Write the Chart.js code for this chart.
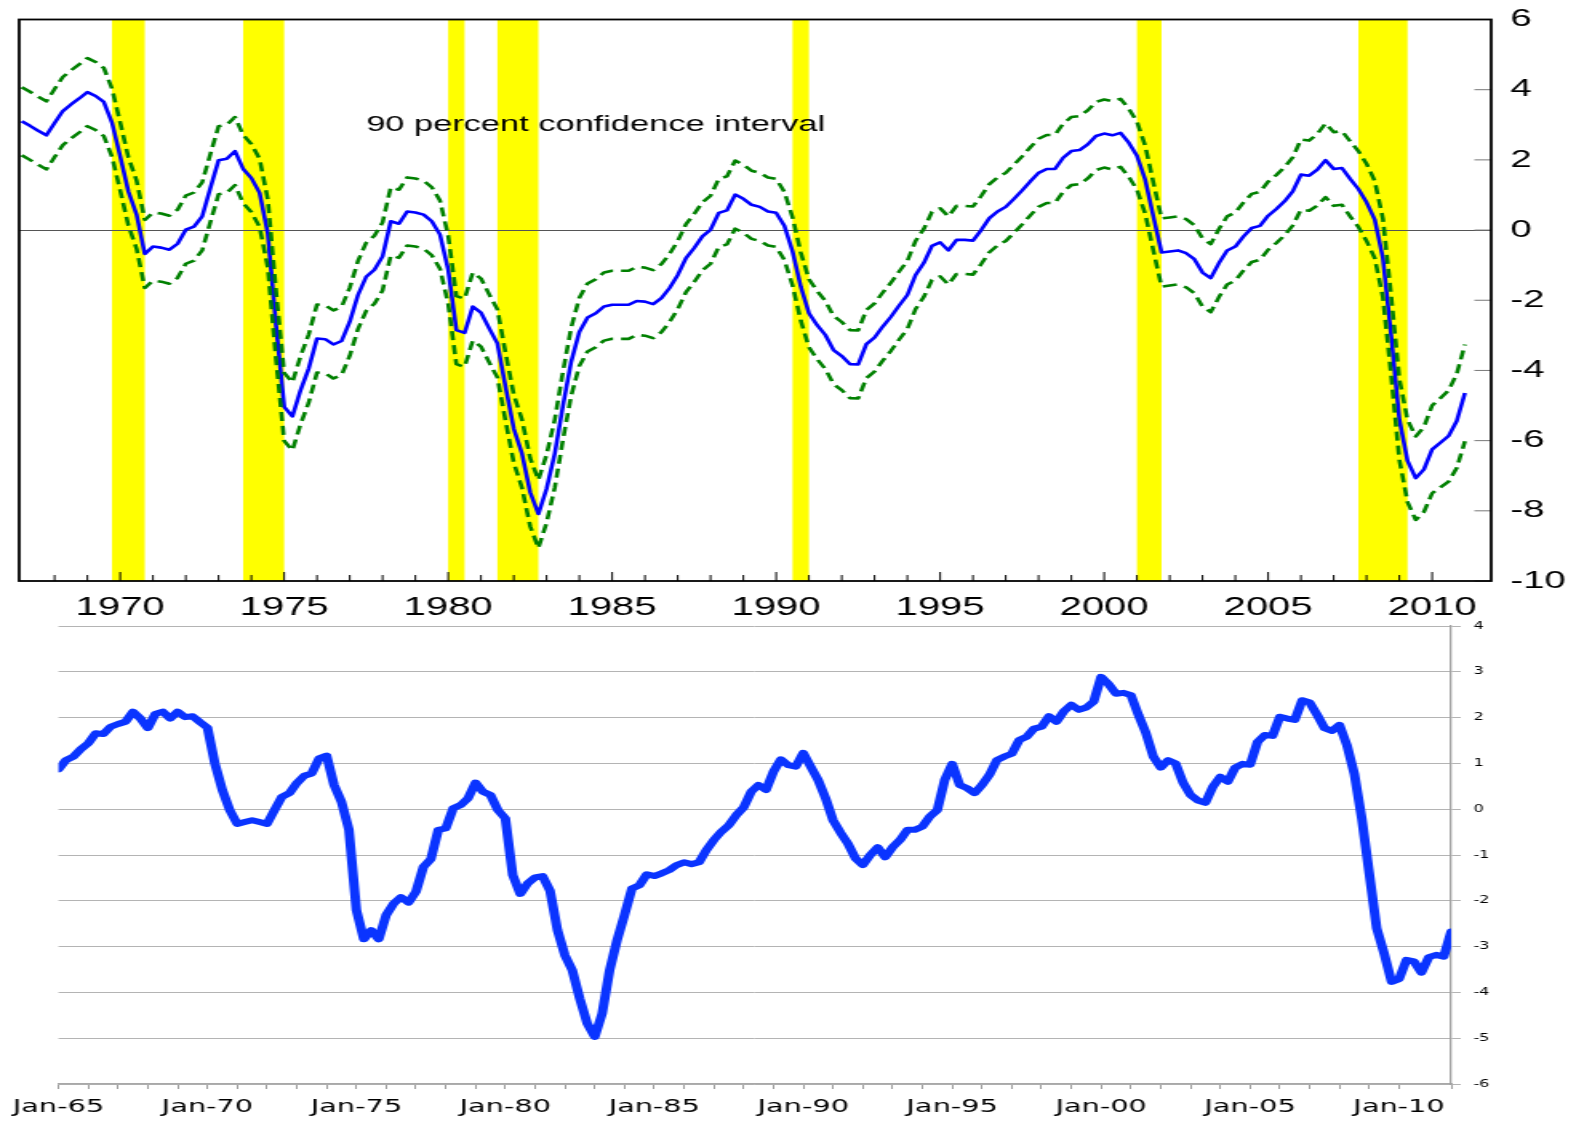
<!DOCTYPE html>
<html>
<head>
<meta charset="utf-8">
<script src="https://cdn.jsdelivr.net/npm/chart.js@4.4.1/dist/chart.umd.min.js"></script>
<style>
    html, body { margin: 0; padding: 0; background: #fff; }
    body { width: 1575px; height: 1128px; overflow: hidden; position: relative; }
    /* the source figure is stretched sideways, so each panel is drawn narrow and scaled */
    .panel { position: absolute; left: 0; width: 985px; transform-origin: 0 0; transform: scaleX(1.6); }
    #top-panel { top: 0; height: 620px; }
    #bottom-panel { top: 620px; height: 508px; }
</style>
</head>
<body>
<div class="panel" id="top-panel"><canvas id="top-chart"></canvas></div>
<div class="panel" id="bottom-panel"><canvas id="bottom-chart"></canvas></div>
<script>
// top panel: quarterly estimate from 1967Q1 with 90 percent band
const topStart = 1967;
const topMean = [
    3.10, 2.97, 2.83, 2.70, 3.05, 3.39, 3.58, 3.75, 3.93, 3.82, 3.65, 3.06,
    2.10, 1.10, 0.44, -0.68, -0.47, -0.50, -0.56, -0.39, 0.01, 0.10, 0.39, 1.20,
    1.99, 2.03, 2.25, 1.74, 1.48, 1.06, -0.09, -2.70, -5.04, -5.31, -4.56, -3.94,
    -3.09, -3.11, -3.26, -3.16, -2.61, -1.85, -1.33, -1.13, -0.75, 0.25, 0.18, 0.53,
    0.50, 0.44, 0.25, -0.13, -1.13, -2.85, -2.93, -2.18, -2.35, -2.80, -3.23, -4.47,
    -5.66, -6.37, -7.47, -8.09, -7.37, -6.37, -5.00, -3.75, -2.90, -2.49, -2.37, -2.18,
    -2.13, -2.13, -2.13, -2.02, -2.04, -2.11, -1.94, -1.65, -1.28, -0.80, -0.51, -0.18,
    0.01, 0.49, 0.56, 1.01, 0.89, 0.72, 0.66, 0.53, 0.49, 0.12, -0.61, -1.61,
    -2.37, -2.71, -2.99, -3.42, -3.59, -3.82, -3.83, -3.25, -3.06, -2.75, -2.47, -2.15,
    -1.85, -1.28, -0.94, -0.45, -0.35, -0.58, -0.28, -0.28, -0.30, 0.00, 0.34, 0.53,
    0.66, 0.89, 1.13, 1.39, 1.63, 1.74, 1.74, 2.06, 2.25, 2.28, 2.44, 2.68,
    2.75, 2.70, 2.77, 2.49, 2.12, 1.44, 0.39, -0.64, -0.61, -0.58, -0.66, -0.83,
    -1.21, -1.37, -0.94, -0.58, -0.47, -0.18, 0.06, 0.12, 0.41, 0.60, 0.82, 1.10,
    1.58, 1.55, 1.72, 1.99, 1.74, 1.77, 1.46, 1.17, 0.79, 0.30, -0.80, -3.00,
    -5.39, -6.58, -7.07, -6.82, -6.25, -6.06, -5.87, -5.44, -4.64
];
const topUpper = [
    4.07, 3.94, 3.80, 3.67, 4.02, 4.36, 4.55, 4.72, 4.90, 4.79, 4.62, 4.03,
    3.07, 2.07, 1.41, 0.29, 0.50, 0.47, 0.41, 0.58, 0.98, 1.07, 1.36, 2.17,
    2.96, 3.00, 3.22, 2.71, 2.45, 2.03, 0.88, -1.73, -4.07, -4.34, -3.59, -2.97,
    -2.12, -2.14, -2.29, -2.19, -1.64, -0.88, -0.36, -0.16, 0.22, 1.22, 1.15, 1.50,
    1.47, 1.41, 1.22, 0.84, -0.16, -1.88, -1.96, -1.21, -1.38, -1.83, -2.26, -3.50,
    -4.69, -5.40, -6.50, -7.12, -6.40, -5.40, -4.03, -2.78, -1.93, -1.52, -1.40, -1.21,
    -1.16, -1.16, -1.16, -1.05, -1.07, -1.14, -0.97, -0.68, -0.31, 0.17, 0.46, 0.79,
    0.98, 1.46, 1.53, 1.98, 1.86, 1.69, 1.63, 1.50, 1.46, 1.09, 0.36, -0.64,
    -1.40, -1.74, -2.02, -2.45, -2.62, -2.85, -2.86, -2.28, -2.09, -1.78, -1.50, -1.18,
    -0.88, -0.31, 0.03, 0.52, 0.62, 0.39, 0.69, 0.69, 0.67, 0.97, 1.31, 1.50,
    1.63, 1.86, 2.10, 2.36, 2.60, 2.71, 2.71, 3.03, 3.22, 3.25, 3.41, 3.65,
    3.72, 3.67, 3.74, 3.46, 3.09, 2.41, 1.36, 0.33, 0.36, 0.39, 0.31, 0.14,
    -0.24, -0.40, 0.03, 0.39, 0.50, 0.79, 1.03, 1.09, 1.38, 1.57, 1.79, 2.07,
    2.58, 2.55, 2.74, 3.04, 2.79, 2.82, 2.53, 2.25, 1.89, 1.40, 0.32, -1.87,
    -4.24, -5.41, -5.88, -5.61, -5.00, -4.79, -4.57, -4.10, -3.26
];
const topLower = [
    2.13, 2.00, 1.86, 1.73, 2.08, 2.42, 2.61, 2.78, 2.96, 2.85, 2.68, 2.09,
    1.13, 0.13, -0.53, -1.65, -1.44, -1.47, -1.53, -1.36, -0.96, -0.87, -0.58, 0.23,
    1.02, 1.06, 1.28, 0.77, 0.51, 0.09, -1.06, -3.67, -6.01, -6.28, -5.53, -4.91,
    -4.06, -4.08, -4.23, -4.13, -3.58, -2.82, -2.30, -2.10, -1.72, -0.72, -0.79, -0.44,
    -0.47, -0.53, -0.72, -1.10, -2.10, -3.82, -3.90, -3.15, -3.32, -3.77, -4.20, -5.44,
    -6.63, -7.34, -8.44, -9.06, -8.34, -7.34, -5.97, -4.72, -3.87, -3.46, -3.34, -3.15,
    -3.10, -3.10, -3.10, -2.99, -3.01, -3.08, -2.91, -2.62, -2.25, -1.77, -1.48, -1.15,
    -0.96, -0.48, -0.41, 0.04, -0.08, -0.25, -0.31, -0.44, -0.48, -0.85, -1.58, -2.58,
    -3.34, -3.68, -3.96, -4.39, -4.56, -4.79, -4.80, -4.22, -4.03, -3.72, -3.44, -3.12,
    -2.82, -2.25, -1.91, -1.42, -1.32, -1.55, -1.25, -1.25, -1.27, -0.97, -0.63, -0.44,
    -0.31, -0.08, 0.16, 0.42, 0.66, 0.77, 0.77, 1.09, 1.28, 1.31, 1.47, 1.71,
    1.78, 1.73, 1.80, 1.52, 1.15, 0.47, -0.58, -1.61, -1.58, -1.55, -1.63, -1.80,
    -2.18, -2.34, -1.91, -1.55, -1.44, -1.15, -0.91, -0.85, -0.56, -0.37, -0.15, 0.13,
    0.58, 0.55, 0.70, 0.94, 0.69, 0.72, 0.39, 0.09, -0.31, -0.80, -1.92, -4.13,
    -6.54, -7.75, -8.26, -8.03, -7.50, -7.33, -7.17, -6.78, -6.02
];
const recessionStart = [1969.75, 1973.75, 1980.0, 1981.5, 1990.5, 2001.0, 2007.75];
const recessionEnd = [1970.75, 1975.0, 1980.5, 1982.75, 1991.0, 2001.75, 2009.25];
const topYearTicks = [1970, 1975, 1980, 1985, 1990, 1995, 2000, 2005, 2010];
const bandNote = '90 percent confidence interval';

// bottom panel: quarterly series from 1965Q1
const bottomStart = 1965;
const bottomSeries = [
    0.87, 1.07, 1.15, 1.31, 1.44, 1.66, 1.64, 1.80, 1.86, 1.91, 2.13, 1.98,
    1.77, 2.08, 2.13, 1.98, 2.13, 2.01, 2.03, 1.90, 1.78, 1.00, 0.42, -0.02,
    -0.32, -0.28, -0.24, -0.28, -0.32, -0.02, 0.27, 0.35, 0.57, 0.73, 0.78, 1.11,
    1.17, 0.53, 0.16, -0.45, -2.20, -2.84, -2.64, -2.84, -2.31, -2.06, -1.92, -2.04,
    -1.80, -1.26, -1.09, -0.45, -0.42, 0.02, 0.09, 0.24, 0.58, 0.38, 0.31, -0.02,
    -0.20, -1.44, -1.85, -1.62, -1.49, -1.46, -1.78, -2.64, -3.19, -3.52, -4.14, -4.68,
    -4.97, -4.46, -3.52, -2.86, -2.31, -1.73, -1.66, -1.42, -1.46, -1.40, -1.33, -1.22,
    -1.16, -1.20, -1.16, -0.89, -0.67, -0.49, -0.35, -0.13, 0.04, 0.38, 0.53, 0.42,
    0.82, 1.09, 0.96, 0.93, 1.23, 0.93, 0.64, 0.24, -0.24, -0.51, -0.75, -1.07,
    -1.22, -1.00, -0.83, -1.05, -0.83, -0.67, -0.45, -0.45, -0.38, -0.16, -0.02, 0.64,
    0.99, 0.53, 0.46, 0.35, 0.53, 0.75, 1.07, 1.15, 1.21, 1.51, 1.58, 1.76,
    1.80, 2.03, 1.91, 2.14, 2.28, 2.17, 2.22, 2.35, 2.89, 2.73, 2.52, 2.54,
    2.49, 2.06, 1.67, 1.15, 0.91, 1.07, 1.00, 0.58, 0.31, 0.19, 0.14, 0.49,
    0.71, 0.60, 0.91, 0.99, 0.97, 1.47, 1.62, 1.60, 2.02, 1.98, 1.95, 2.38,
    2.33, 2.06, 1.77, 1.71, 1.84, 1.40, 0.77, -0.20, -1.40, -2.60, -3.15, -3.77,
    -3.71, -3.29, -3.32, -3.57, -3.23, -3.18, -3.22, -2.67
];
const bottomTickYears = [1965, 1970, 1975, 1980, 1985, 1990, 1995, 2000, 2005, 2010];
const bottomTickLabels = ['Jan-65', 'Jan-70', 'Jan-75', 'Jan-80', 'Jan-85', 'Jan-90', 'Jan-95', 'Jan-00', 'Jan-05', 'Jan-10'];

const ARIAL = '"Liberation Sans", Arial, Helvetica, sans-serif';
const VERDANA = '"DejaVu Sans", Verdana, sans-serif';

function quarterly(start, values) {
    return values.map(function (v, i) { return { x: start + i / 4, y: v }; });
}
// keep the plot area where the layout padding puts it, labels may overhang
function noLabelPadding(s) {
    s.paddingTop = 0;
    s.paddingBottom = 0;
}

const topDecor = {
    id: 'topDecor',
    beforeDraw(chart) {
        const ctx = chart.ctx, a = chart.chartArea, x = chart.scales.x, y = chart.scales.y;
        ctx.save();
        ctx.fillStyle = '#ffff00';
        recessionStart.forEach(function (s, i) {
            const x0 = x.getPixelForValue(s), x1 = x.getPixelForValue(recessionEnd[i]);
            ctx.fillRect(x0, a.top, x1 - x0, a.bottom - a.top);
        });
        const zero = Math.round(y.getPixelForValue(0)) + 0.5;
        ctx.strokeStyle = '#555';
        ctx.lineWidth = 1;
        ctx.beginPath();
        ctx.moveTo(a.left, zero);
        ctx.lineTo(a.right, zero);
        ctx.stroke();
        ctx.restore();
    },
    afterDraw(chart) {
        const ctx = chart.ctx, a = chart.chartArea, x = chart.scales.x, y = chart.scales.y;
        ctx.save();
        // inward year ticks on the bottom frame
        ctx.strokeStyle = '#000';
        ctx.lineWidth = 1;
        x.ticks.forEach(function (t) {
            if (!Number.isInteger(t.value)) return;
            const px = x.getPixelForValue(t.value);
            const len = topYearTicks.indexOf(t.value) >= 0 ? 9 : 6;
            ctx.beginPath();
            ctx.moveTo(px, a.bottom);
            ctx.lineTo(px, a.bottom - len);
            ctx.stroke();
        });
        // inward value ticks on the right frame
        ctx.strokeStyle = '#777';
        y.ticks.forEach(function (t) {
            const py = y.getPixelForValue(t.value);
            ctx.beginPath();
            ctx.moveTo(a.right - 10.5, py);
            ctx.lineTo(a.right, py);
            ctx.stroke();
        });
        ctx.strokeStyle = '#000';
        ctx.lineWidth = 1.8;
        ctx.strokeRect(a.left, a.top, a.right - a.left, a.bottom - a.top);
        ctx.fillStyle = '#000';
        ctx.font = '21.5px ' + ARIAL;
        ctx.textBaseline = 'middle';
        ctx.textAlign = 'left';
        ctx.fillText(bandNote, x.getPixelForValue(1977.5), y.getPixelForValue(2.98));
        ctx.restore();
    }
};

new Chart(document.getElementById('top-chart'), {
    type: 'line',
    data: {
        datasets: [
            { data: quarterly(topStart, topUpper), borderColor: '#008000', borderWidth: 2.6, borderDash: [9, 5] },
            { data: quarterly(topStart, topLower), borderColor: '#008000', borderWidth: 2.6, borderDash: [9, 5] },
            { data: quarterly(topStart, topMean), borderColor: '#0000ff', borderWidth: 2.6 }
        ]
    },
    options: {
        responsive: true,
        maintainAspectRatio: false,
        animation: false,
        layout: { padding: { left: 11, top: 19.5, right: 0, bottom: 0 } },
        elements: { point: { radius: 0 }, line: { tension: 0, fill: false, borderJoinStyle: 'round' } },
        plugins: { legend: { display: false }, tooltip: { enabled: false } },
        scales: {
            x: {
                type: 'linear', min: 1966.92, max: 2011.8,
                grid: { display: false, drawTicks: false },
                border: { display: false },
                ticks: {
                    stepSize: 1, autoSkip: false, maxRotation: 0, minRotation: 0, padding: 12,
                    color: '#000', font: { family: ARIAL, size: 25 },
                    callback: function (v) { return topYearTicks.indexOf(v) >= 0 ? String(v) : ''; }
                },
                afterFit: function (s) { s.height = 39; }
            },
            y: {
                position: 'right', min: -10, max: 6,
                grid: { display: false, drawTicks: false },
                border: { display: false },
                ticks: { stepSize: 2, padding: 12, color: '#000', font: { family: ARIAL, size: 24 } },
                afterFit: function (s) { s.width = 53; noLabelPadding(s); }
            }
        }
    },
    plugins: [topDecor]
});

new Chart(document.getElementById('bottom-chart'), {
    type: 'line',
    data: {
        datasets: [
            { data: quarterly(bottomStart, bottomSeries), borderColor: '#0a34ff', borderWidth: 6, borderCapStyle: 'round' }
        ]
    },
    options: {
        responsive: true,
        maintainAspectRatio: false,
        animation: false,
        layout: { padding: { left: 36, top: 6, right: 0, bottom: 0 } },
        elements: { point: { radius: 0 }, line: { tension: 0, fill: false, borderJoinStyle: 'round' } },
        plugins: { legend: { display: false }, tooltip: { enabled: false } },
        scales: {
            x: {
                type: 'linear', min: 1965, max: 2011.75,
                grid: { display: true, drawOnChartArea: false, drawTicks: true, tickLength: 5, color: '#9c9c9c' },
                border: { display: true, color: '#a8a8a8', width: 1.5 },
                ticks: {
                    stepSize: 1, autoSkip: false, maxRotation: 0, minRotation: 0, padding: 8,
                    color: '#000', font: { family: VERDANA, size: 18 },
                    callback: function (v) {
                        const i = bottomTickYears.indexOf(v);
                        return i >= 0 ? bottomTickLabels[i] : '';
                    }
                },
                afterFit: function (s) { s.height = 44; }
            },
            y: {
                position: 'right', min: -6, max: 4,
                grid: { color: '#b4b4b4', lineWidth: 1, drawTicks: true, tickLength: 6 },
                border: { display: true, color: '#a0a0a0', width: 1.3 },
                ticks: { stepSize: 1, padding: 8, color: '#000', font: { family: VERDANA, size: 10 } },
                afterFit: function (s) { s.width = 78; noLabelPadding(s); }
            }
        }
    }
});
</script>
</body>
</html>
